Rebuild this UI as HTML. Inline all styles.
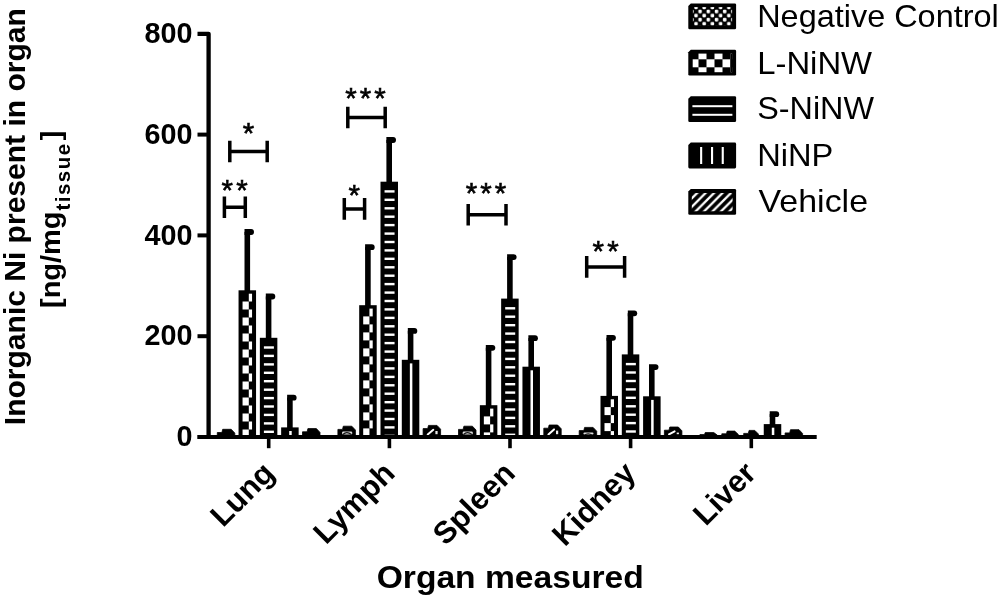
<!DOCTYPE html>
<html><head><meta charset="utf-8"><title>Inorganic Ni present in organ</title>
<style>
html,body{margin:0;padding:0;background:#fff;}
svg{display:block;}
text{font-family:"Liberation Sans",Arial,sans-serif;fill:#000;}
.b{font-weight:bold;}
</style></head><body>
<svg width="1000" height="599" viewBox="0 0 1000 599">
<defs>
<pattern id="pNC" width="8.2" height="8.2" patternUnits="userSpaceOnUse" x="693.95" y="5.35"><rect width="8.2" height="8.2" fill="#000"/><rect x="0.3" y="0.3" width="3.5" height="3.5" rx="1" fill="#fff"/><rect x="4.4" y="4.4" width="3.5" height="3.5" rx="1" fill="#fff"/></pattern>
<pattern id="pL" width="16" height="16" patternUnits="userSpaceOnUse" x="698.5" y="51.3"><rect width="16" height="16" fill="#000"/><rect x="0" y="0" width="8" height="8" fill="#fff"/><rect x="8" y="8" width="8" height="8" fill="#fff"/></pattern>
<pattern id="pV" width="8.45" height="8.45" patternUnits="userSpaceOnUse" x="690.15" y="200"><rect width="8.45" height="8.45" fill="#000"/><path d="M-1 9.45 L9.45 -1 M-1 1 L1 -1 M7.45 9.45 L9.45 7.45" stroke="#fff" stroke-width="2.3"/></pattern>
</defs>
<rect width="1000" height="599" fill="#fff"/>

<text class="b" font-size="30.3" text-anchor="end" transform="translate(192.6 446.1) scale(0.95 1)">0</text>
<text class="b" font-size="30.3" text-anchor="end" transform="translate(192.6 345.3) scale(0.95 1)">200</text>
<text class="b" font-size="30.3" text-anchor="end" transform="translate(192.6 244.5) scale(0.95 1)">400</text>
<text class="b" font-size="30.3" text-anchor="end" transform="translate(192.6 143.7) scale(0.95 1)">600</text>
<text class="b" font-size="30.3" text-anchor="end" transform="translate(192.6 42.9) scale(0.95 1)">800</text>
<path d="M217.3 437.0 V432.5 H221.9 L222.7 429.3 H231.2 L234.8 433.1 V437.0 Z" fill="#000" stroke="#000" stroke-width="0.8" stroke-linejoin="round"/>
<path d="M247.3 291.3 V231.9" stroke="#000" stroke-width="5.6" fill="none"/>
<path d="M244.5 229.1 H251.1 A2.9 2.9 0 0 1 251.1 234.9 H244.5 Z" fill="#000"/>
<rect x="238.55" y="290.3" width="17.5" height="146.7" fill="#000"/>
<rect x="248.80" y="293.7" width="3.25" height="7.8" fill="#fff"/>
<rect x="242.55" y="301.5" width="6.25" height="8.0" fill="#fff"/>
<rect x="248.80" y="309.5" width="3.25" height="8.0" fill="#fff"/>
<rect x="242.55" y="317.5" width="6.25" height="8.0" fill="#fff"/>
<rect x="248.80" y="325.5" width="3.25" height="8.0" fill="#fff"/>
<rect x="242.55" y="333.5" width="6.25" height="8.0" fill="#fff"/>
<rect x="248.80" y="341.5" width="3.25" height="8.0" fill="#fff"/>
<rect x="242.55" y="349.5" width="6.25" height="8.0" fill="#fff"/>
<rect x="248.80" y="357.5" width="3.25" height="8.0" fill="#fff"/>
<rect x="242.55" y="365.5" width="6.25" height="8.0" fill="#fff"/>
<rect x="248.80" y="373.5" width="3.25" height="8.0" fill="#fff"/>
<rect x="242.55" y="381.5" width="6.25" height="8.0" fill="#fff"/>
<rect x="248.80" y="389.5" width="3.25" height="8.0" fill="#fff"/>
<rect x="242.55" y="397.5" width="6.25" height="8.0" fill="#fff"/>
<rect x="248.80" y="405.5" width="3.25" height="8.0" fill="#fff"/>
<rect x="242.55" y="413.5" width="6.25" height="8.0" fill="#fff"/>
<rect x="248.80" y="421.5" width="3.25" height="8.0" fill="#fff"/>
<rect x="242.55" y="429.5" width="6.25" height="5.9" fill="#fff"/>
<path d="M268.6 338.8 V296.4" stroke="#000" stroke-width="5.6" fill="none"/>
<path d="M265.8 293.6 H272.4 A2.9 2.9 0 0 1 272.4 299.4 H265.8 Z" fill="#000"/>
<rect x="259.85" y="337.8" width="17.5" height="99.2" fill="#000"/>
<rect x="263.90" y="346.3" width="10" height="2.4" fill="#fff"/>
<rect x="263.90" y="354.7" width="10" height="2.4" fill="#fff"/>
<rect x="263.90" y="363.2" width="10" height="2.4" fill="#fff"/>
<rect x="263.90" y="371.6" width="10" height="2.4" fill="#fff"/>
<rect x="263.90" y="380.0" width="10" height="2.4" fill="#fff"/>
<rect x="263.90" y="388.5" width="10" height="2.4" fill="#fff"/>
<rect x="263.90" y="396.9" width="10" height="2.4" fill="#fff"/>
<rect x="263.90" y="405.3" width="10" height="2.4" fill="#fff"/>
<rect x="263.90" y="413.7" width="10" height="2.4" fill="#fff"/>
<rect x="263.90" y="422.2" width="10" height="2.4" fill="#fff"/>
<rect x="263.90" y="430.6" width="10" height="2.4" fill="#fff"/>
<path d="M289.9 428.4 V397.6" stroke="#000" stroke-width="5.6" fill="none"/>
<path d="M287.1 394.8 H293.7 A2.9 2.9 0 0 1 293.7 400.6 H287.1 Z" fill="#000"/>
<rect x="281.15" y="427.4" width="17.5" height="9.6" fill="#000"/>
<rect x="289.20" y="431.0" width="2.5" height="4.2" fill="#fff"/>
<path d="M302.5 437.0 V431.8 H307.1 L307.9 428.6 H316.4 L320.0 432.4 V437.0 Z" fill="#000" stroke="#000" stroke-width="0.8" stroke-linejoin="round"/>
<path d="M337.9 437.0 V429.4 H342.5 L343.3 426.2 H351.8 L355.4 430.0 V437.0 Z" fill="#000" stroke="#000" stroke-width="0.8" stroke-linejoin="round"/>
<rect x="342.1" y="431.4" width="10.1" height="3.0" rx="1.2" fill="#ddd"/>
<path d="M342.9 434.5 Q346.6 430.6 351.4 434.5" stroke="#111" stroke-width="1.1" fill="none"/>
<path d="M367.9 306.2 V247.1" stroke="#000" stroke-width="5.6" fill="none"/>
<path d="M365.1 244.3 H371.8 A2.9 2.9 0 0 1 371.8 250.1 H365.1 Z" fill="#000"/>
<rect x="359.20" y="305.2" width="17.5" height="131.8" fill="#000"/>
<rect x="369.45" y="308.6" width="3.25" height="7.8" fill="#fff"/>
<rect x="363.20" y="316.4" width="6.25" height="8.0" fill="#fff"/>
<rect x="369.45" y="324.4" width="3.25" height="8.0" fill="#fff"/>
<rect x="363.20" y="332.4" width="6.25" height="8.0" fill="#fff"/>
<rect x="369.45" y="340.4" width="3.25" height="8.0" fill="#fff"/>
<rect x="363.20" y="348.4" width="6.25" height="8.0" fill="#fff"/>
<rect x="369.45" y="356.4" width="3.25" height="8.0" fill="#fff"/>
<rect x="363.20" y="364.4" width="6.25" height="8.0" fill="#fff"/>
<rect x="369.45" y="372.4" width="3.25" height="8.0" fill="#fff"/>
<rect x="363.20" y="380.4" width="6.25" height="8.0" fill="#fff"/>
<rect x="369.45" y="388.4" width="3.25" height="8.0" fill="#fff"/>
<rect x="363.20" y="396.4" width="6.25" height="8.0" fill="#fff"/>
<rect x="369.45" y="404.4" width="3.25" height="8.0" fill="#fff"/>
<rect x="363.20" y="412.4" width="6.25" height="8.0" fill="#fff"/>
<rect x="369.45" y="420.4" width="3.25" height="8.0" fill="#fff"/>
<rect x="363.20" y="428.4" width="6.25" height="7.0" fill="#fff"/>
<path d="M389.2 182.7 V139.9" stroke="#000" stroke-width="5.6" fill="none"/>
<path d="M386.4 137.1 H393.1 A2.9 2.9 0 0 1 393.1 142.9 H386.4 Z" fill="#000"/>
<rect x="380.50" y="181.7" width="17.5" height="255.3" fill="#000"/>
<rect x="384.55" y="190.2" width="10" height="2.4" fill="#fff"/>
<rect x="384.55" y="198.6" width="10" height="2.4" fill="#fff"/>
<rect x="384.55" y="207.1" width="10" height="2.4" fill="#fff"/>
<rect x="384.55" y="215.5" width="10" height="2.4" fill="#fff"/>
<rect x="384.55" y="223.9" width="10" height="2.4" fill="#fff"/>
<rect x="384.55" y="232.4" width="10" height="2.4" fill="#fff"/>
<rect x="384.55" y="240.8" width="10" height="2.4" fill="#fff"/>
<rect x="384.55" y="249.2" width="10" height="2.4" fill="#fff"/>
<rect x="384.55" y="257.6" width="10" height="2.4" fill="#fff"/>
<rect x="384.55" y="266.1" width="10" height="2.4" fill="#fff"/>
<rect x="384.55" y="274.5" width="10" height="2.4" fill="#fff"/>
<rect x="384.55" y="282.9" width="10" height="2.4" fill="#fff"/>
<rect x="384.55" y="291.4" width="10" height="2.4" fill="#fff"/>
<rect x="384.55" y="299.8" width="10" height="2.4" fill="#fff"/>
<rect x="384.55" y="308.2" width="10" height="2.4" fill="#fff"/>
<rect x="384.55" y="316.7" width="10" height="2.4" fill="#fff"/>
<rect x="384.55" y="325.1" width="10" height="2.4" fill="#fff"/>
<rect x="384.55" y="333.5" width="10" height="2.4" fill="#fff"/>
<rect x="384.55" y="341.9" width="10" height="2.4" fill="#fff"/>
<rect x="384.55" y="350.4" width="10" height="2.4" fill="#fff"/>
<rect x="384.55" y="358.8" width="10" height="2.4" fill="#fff"/>
<rect x="384.55" y="367.2" width="10" height="2.4" fill="#fff"/>
<rect x="384.55" y="375.7" width="10" height="2.4" fill="#fff"/>
<rect x="384.55" y="384.1" width="10" height="2.4" fill="#fff"/>
<rect x="384.55" y="392.5" width="10" height="2.4" fill="#fff"/>
<rect x="384.55" y="401.0" width="10" height="2.4" fill="#fff"/>
<rect x="384.55" y="409.4" width="10" height="2.4" fill="#fff"/>
<rect x="384.55" y="417.8" width="10" height="2.4" fill="#fff"/>
<rect x="384.55" y="426.2" width="10" height="2.4" fill="#fff"/>
<rect x="384.55" y="434.7" width="10" height="2.4" fill="#fff"/>
<path d="M410.6 360.8 V330.8" stroke="#000" stroke-width="5.6" fill="none"/>
<path d="M407.8 328.0 H414.4 A2.9 2.9 0 0 1 414.4 333.8 H407.8 Z" fill="#000"/>
<rect x="401.80" y="359.8" width="17.5" height="77.2" fill="#000"/>
<rect x="409.85" y="363.4" width="2.5" height="71.8" fill="#fff"/>
<path d="M423.1 437.0 V428.6 H427.7 L428.5 425.4 H437.0 L440.6 429.2 V437.0 Z" fill="#000" stroke="#000" stroke-width="0.8" stroke-linejoin="round"/>
<path d="M427.7 434.4 L433.3 429.8" stroke="#fff" stroke-width="2" stroke-linecap="round"/>
<rect x="435.4" y="431.0" width="2.2" height="3.2" fill="#eee"/>
<path d="M458.5 437.0 V429.4 H463.1 L463.9 426.2 H472.4 L476.0 430.0 V437.0 Z" fill="#000" stroke="#000" stroke-width="0.8" stroke-linejoin="round"/>
<rect x="462.7" y="431.4" width="10.1" height="3.0" rx="1.2" fill="#ddd"/>
<path d="M463.5 434.5 Q467.3 430.6 472.0 434.5" stroke="#111" stroke-width="1.1" fill="none"/>
<path d="M488.6 406.2 V347.7" stroke="#000" stroke-width="5.6" fill="none"/>
<path d="M485.8 344.9 H492.4 A2.9 2.9 0 0 1 492.4 350.7 H485.8 Z" fill="#000"/>
<rect x="479.85" y="405.2" width="17.5" height="31.8" fill="#000"/>
<rect x="490.10" y="408.6" width="3.25" height="7.8" fill="#fff"/>
<rect x="483.85" y="416.4" width="6.25" height="8.0" fill="#fff"/>
<rect x="490.10" y="424.4" width="3.25" height="8.0" fill="#fff"/>
<rect x="483.85" y="432.4" width="6.25" height="3.0" fill="#fff"/>
<path d="M509.9 299.6 V257.0" stroke="#000" stroke-width="5.6" fill="none"/>
<path d="M507.1 254.2 H513.7 A2.9 2.9 0 0 1 513.7 260.0 H507.1 Z" fill="#000"/>
<rect x="501.15" y="298.6" width="17.5" height="138.4" fill="#000"/>
<rect x="505.20" y="307.1" width="10" height="2.4" fill="#fff"/>
<rect x="505.20" y="315.5" width="10" height="2.4" fill="#fff"/>
<rect x="505.20" y="324.0" width="10" height="2.4" fill="#fff"/>
<rect x="505.20" y="332.4" width="10" height="2.4" fill="#fff"/>
<rect x="505.20" y="340.8" width="10" height="2.4" fill="#fff"/>
<rect x="505.20" y="349.3" width="10" height="2.4" fill="#fff"/>
<rect x="505.20" y="357.7" width="10" height="2.4" fill="#fff"/>
<rect x="505.20" y="366.1" width="10" height="2.4" fill="#fff"/>
<rect x="505.20" y="374.5" width="10" height="2.4" fill="#fff"/>
<rect x="505.20" y="383.0" width="10" height="2.4" fill="#fff"/>
<rect x="505.20" y="391.4" width="10" height="2.4" fill="#fff"/>
<rect x="505.20" y="399.8" width="10" height="2.4" fill="#fff"/>
<rect x="505.20" y="408.3" width="10" height="2.4" fill="#fff"/>
<rect x="505.20" y="416.7" width="10" height="2.4" fill="#fff"/>
<rect x="505.20" y="425.1" width="10" height="2.4" fill="#fff"/>
<rect x="505.20" y="433.6" width="10" height="2.4" fill="#fff"/>
<path d="M531.2 367.7 V338.1" stroke="#000" stroke-width="5.6" fill="none"/>
<path d="M528.4 335.3 H535.0 A2.9 2.9 0 0 1 535.0 341.1 H528.4 Z" fill="#000"/>
<rect x="522.45" y="366.7" width="17.5" height="70.3" fill="#000"/>
<rect x="530.50" y="370.3" width="2.5" height="64.9" fill="#fff"/>
<path d="M543.8 437.0 V428.2 H548.4 L549.1 425.0 H557.6 L561.2 428.8 V437.0 Z" fill="#000" stroke="#000" stroke-width="0.8" stroke-linejoin="round"/>
<path d="M548.4 434.4 L554.0 429.4" stroke="#fff" stroke-width="2" stroke-linecap="round"/>
<rect x="556.0" y="430.6" width="2.2" height="3.6" fill="#eee"/>
<path d="M579.2 437.0 V430.6 H583.8 L584.6 427.4 H593.1 L596.7 431.2 V437.0 Z" fill="#000" stroke="#000" stroke-width="0.8" stroke-linejoin="round"/>
<rect x="583.4" y="432.6" width="10.1" height="1.8" rx="1.2" fill="#ddd"/>
<path d="M584.2 435.7 Q587.9 431.8 592.7 435.7" stroke="#111" stroke-width="1.1" fill="none"/>
<path d="M609.2 396.9 V337.7" stroke="#000" stroke-width="5.6" fill="none"/>
<path d="M606.5 334.9 H613.0 A2.9 2.9 0 0 1 613.0 340.7 H606.5 Z" fill="#000"/>
<rect x="600.50" y="395.9" width="17.5" height="41.1" fill="#000"/>
<rect x="610.75" y="399.3" width="3.25" height="7.8" fill="#fff"/>
<rect x="604.50" y="407.1" width="6.25" height="8.0" fill="#fff"/>
<rect x="610.75" y="415.1" width="3.25" height="8.0" fill="#fff"/>
<rect x="604.50" y="423.1" width="6.25" height="8.0" fill="#fff"/>
<rect x="610.75" y="431.1" width="3.25" height="4.3" fill="#fff"/>
<path d="M630.5 355.4 V313.2" stroke="#000" stroke-width="5.6" fill="none"/>
<path d="M627.8 310.4 H634.3 A2.9 2.9 0 0 1 634.3 316.2 H627.8 Z" fill="#000"/>
<rect x="621.80" y="354.4" width="17.5" height="82.6" fill="#000"/>
<rect x="625.85" y="362.9" width="10" height="2.4" fill="#fff"/>
<rect x="625.85" y="371.3" width="10" height="2.4" fill="#fff"/>
<rect x="625.85" y="379.8" width="10" height="2.4" fill="#fff"/>
<rect x="625.85" y="388.2" width="10" height="2.4" fill="#fff"/>
<rect x="625.85" y="396.6" width="10" height="2.4" fill="#fff"/>
<rect x="625.85" y="405.1" width="10" height="2.4" fill="#fff"/>
<rect x="625.85" y="413.5" width="10" height="2.4" fill="#fff"/>
<rect x="625.85" y="421.9" width="10" height="2.4" fill="#fff"/>
<rect x="625.85" y="430.3" width="10" height="2.4" fill="#fff"/>
<path d="M651.8 397.3 V367.0" stroke="#000" stroke-width="5.6" fill="none"/>
<path d="M649.0 364.2 H655.6 A2.9 2.9 0 0 1 655.6 370.0 H649.0 Z" fill="#000"/>
<rect x="643.10" y="396.3" width="17.5" height="40.7" fill="#000"/>
<rect x="651.15" y="399.9" width="2.5" height="35.3" fill="#fff"/>
<path d="M664.4 437.0 V430.2 H669.0 L669.8 427.0 H678.3 L681.9 430.8 V437.0 Z" fill="#000" stroke="#000" stroke-width="0.8" stroke-linejoin="round"/>
<path d="M669.0 434.4 L674.6 431.4" stroke="#fff" stroke-width="2" stroke-linecap="round"/>
<rect x="676.7" y="432.6" width="2.2" height="1.6" fill="#eee"/>
<path d="M699.9 437.0 V434.6 H704.5 L705.2 432.6 H713.8 L717.4 435.2 V437.0 Z" fill="#000" stroke="#000" stroke-width="0.8" stroke-linejoin="round"/>
<path d="M721.8 437.0 V433.8 H726.4 L727.2 431.1 H734.7 L738.3 434.4 V437.0 Z" fill="#000" stroke="#000" stroke-width="0.8" stroke-linejoin="round"/>
<path d="M743.7 437.0 V433.4 H748.3 L749.1 430.4 H754.8 L758.4 434.0 V437.0 Z" fill="#000" stroke="#000" stroke-width="0.8" stroke-linejoin="round"/>
<path d="M772.5 425.1 V414.1" stroke="#000" stroke-width="5.6" fill="none"/>
<path d="M769.7 411.3 H776.3 A2.9 2.9 0 0 1 776.3 417.1 H769.7 Z" fill="#000"/>
<rect x="763.75" y="424.1" width="17.5" height="12.9" fill="#000"/>
<rect x="771.80" y="427.7" width="2.5" height="7.5" fill="#fff"/>
<path d="M785.1 437.0 V432.9 H789.7 L790.5 429.7 H799.0 L802.6 433.5 V437.0 Z" fill="#000" stroke="#000" stroke-width="0.8" stroke-linejoin="round"/>
<g stroke="#000" stroke-width="4" fill="none" stroke-linecap="butt" stroke-linejoin="round">
<path d="M197.5 33.8 H208.6 V437.0" stroke-width="4.3"/>
<path d="M197.3 437.0 H816.7"/>
<path d="M197.5 336.2 H208.4"/>
<path d="M197.5 235.4 H208.4"/>
<path d="M197.5 134.6 H208.4"/>
<path d="M268.7 437.0 V448.2" stroke-width="3.6"/>
<path d="M389.4 437.0 V448.2" stroke-width="3.6"/>
<path d="M510.0 437.0 V448.2" stroke-width="3.6"/>
<path d="M630.6 437.0 V448.2" stroke-width="3.6"/>
<path d="M751.3 437.0 V448.2" stroke-width="3.6"/>
</g>
<path d="M229.8 140.7 V162.3 M267.2 140.7 V162.3 M229.8 151.5 H267.2" stroke="#000" stroke-width="3.5" fill="none"/>
<text x="249.95000000000002" y="143.2" font-size="29.5" text-anchor="middle" letter-spacing="3.1" stroke="#000" stroke-width="0.6">*</text>
<path d="M224.4 196.5 V218.10000000000002 M245.3 196.5 V218.10000000000002 M224.4 207.3 H245.3" stroke="#000" stroke-width="3.5" fill="none"/>
<text x="236.15" y="200.1" font-size="29.5" text-anchor="middle" letter-spacing="3.1" stroke="#000" stroke-width="0.6">**</text>
<path d="M347.8 106.7 V128.3 M385.2 106.7 V128.3 M347.8 117.5 H385.2" stroke="#000" stroke-width="3.5" fill="none"/>
<text x="367.05" y="108.2" font-size="29.5" text-anchor="middle" letter-spacing="3.1" stroke="#000" stroke-width="0.6">***</text>
<path d="M344.3 198.1 V219.70000000000002 M364.6 198.1 V219.70000000000002 M344.3 208.9 H364.6" stroke="#000" stroke-width="3.5" fill="none"/>
<text x="355.75" y="205.39999999999998" font-size="29.5" text-anchor="middle" letter-spacing="3.1" stroke="#000" stroke-width="0.6">*</text>
<path d="M468.2 203.89999999999998 V225.5 M506.0 203.89999999999998 V225.5 M468.2 214.7 H506.0" stroke="#000" stroke-width="3.5" fill="none"/>
<text x="487.55" y="203.2" font-size="29.5" text-anchor="middle" letter-spacing="3.1" stroke="#000" stroke-width="0.6">***</text>
<path d="M586.7 256.09999999999997 V277.7 M624.6 256.09999999999997 V277.7 M586.7 266.9 H624.6" stroke="#000" stroke-width="3.5" fill="none"/>
<text x="607.15" y="260.8" font-size="29.5" text-anchor="middle" letter-spacing="3.1" stroke="#000" stroke-width="0.6">**</text>
<text class="b" font-size="30.8" text-anchor="end" transform="translate(276.1 475) rotate(-45)">Lung</text>
<text class="b" font-size="30.8" text-anchor="end" transform="translate(396.5 475) rotate(-45)">Lymph</text>
<text class="b" font-size="30.8" text-anchor="end" transform="translate(516.9 475) rotate(-45)">Spleen</text>
<text class="b" font-size="30.8" text-anchor="end" transform="translate(637.3 475) rotate(-45)">Kidney</text>
<text class="b" font-size="30.8" text-anchor="end" transform="translate(757.7 475) rotate(-45)">Liver</text>
<text class="b" font-size="30.8" text-anchor="middle" transform="translate(510.2 588.4) scale(1.091 1)">Organ measured</text>
<text class="b" font-size="28.6" text-anchor="middle" transform="translate(25 216.7) rotate(-90) scale(1.05 1)">Inorganic Ni present in organ</text>
<text class="b" font-size="27.6" text-anchor="start" transform="translate(60.3 308) rotate(-90) scale(1.05 1)">[ng/mg<tspan font-size="19.5" dy="9.2" dx="1" letter-spacing="1.4">tissue</tspan><tspan dy="-9.2" dx="2">]</tspan></text>
<path d="M688.3 5.9 L690.8 3.4 H734.8 Q736.1 3.4 736.1 4.7 V27.9 Q736.1 29.2 734.8 29.2 H689.6 Q688.3 29.2 688.3 27.9 Z" fill="#000"/>
<rect x="692.9" y="7.1" width="39.2" height="18.4" fill="url(#pNC)"/>
<text font-size="31.8" transform="translate(757.2 27.3) scale(1.02 1)">Negative Control</text>
<path d="M688.3 52.3 L690.8 49.8 H734.8 Q736.1 49.8 736.1 51.1 V74.3 Q736.1 75.6 734.8 75.6 H689.6 Q688.3 75.6 688.3 74.3 Z" fill="#000"/>
<rect x="692.7" y="53.6" width="39.4" height="18.6" fill="url(#pL)"/>
<rect x="730.4" y="53.6" width="1.8" height="18.6" fill="#000"/>
<text font-size="31.8" transform="translate(757.2 73.5) scale(1.033 1)">L-NiNW</text>
<path d="M688.3 98.7 L690.8 96.2 H734.8 Q736.1 96.2 736.1 97.5 V120.7 Q736.1 122.0 734.8 122.0 H689.6 Q688.3 122.0 688.3 120.7 Z" fill="#000"/>
<rect x="692.4" y="105.2" width="40" height="2" fill="#fff"/><rect x="692.4" y="113.8" width="40" height="2" fill="#fff"/>
<text font-size="31.8" transform="translate(757.2 119.2) scale(1.017 1)">S-NiNW</text>
<path d="M688.3 145.1 L690.8 142.6 H734.8 Q736.1 142.6 736.1 143.9 V167.1 Q736.1 168.4 734.8 168.4 H689.6 Q688.3 168.4 688.3 167.1 Z" fill="#000"/>
<rect x="700.1" y="147.0" width="2.1" height="17" fill="#fff"/>
<rect x="711.0" y="147.0" width="2.1" height="17" fill="#fff"/>
<rect x="721.7" y="147.0" width="2.1" height="17" fill="#fff"/>
<text font-size="31.8" transform="translate(757.2 165.8) scale(1.026 1)">NiNP</text>
<path d="M688.3 191.5 L690.8 189.0 H734.8 Q736.1 189.0 736.1 190.3 V213.5 Q736.1 214.8 734.8 214.8 H689.6 Q688.3 214.8 688.3 213.5 Z" fill="#000"/>
<rect x="691.8" y="192.9" width="40.8" height="18.4" rx="1.5" fill="url(#pV)"/>
<text font-size="31.8" transform="translate(758.6 212.4) scale(1.068 1)">Vehicle</text>
</svg></body></html>
